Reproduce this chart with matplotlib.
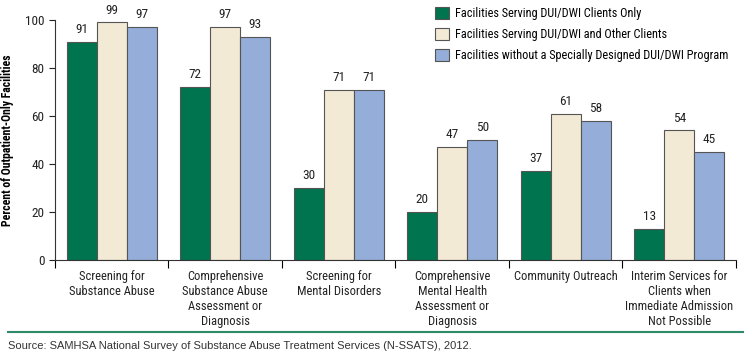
import matplotlib.pyplot as plt
import numpy as np

categories = [
    "Screening for\nSubstance Abuse",
    "Comprehensive\nSubstance Abuse\nAssessment or\nDiagnosis",
    "Screening for\nMental Disorders",
    "Comprehensive\nMental Health\nAssessment or\nDiagnosis",
    "Community Outreach",
    "Interim Services for\nClients when\nImmediate Admission\nNot Possible",
]
dui_only = [91, 72, 30, 20, 37, 13]
dui_and_other = [99, 97, 71, 47, 61, 54]
no_program = [97, 93, 71, 50, 58, 45]
series_labels = [
    "Facilities Serving DUI/DWI Clients Only",
    "Facilities Serving DUI/DWI and Other Clients",
    "Facilities without a Specially Designed DUI/DWI Program",
]
colors = ["#00734F", "#F2EAD5", "#94ADD9"]
y_ticks = [0, 20, 40, 60, 80, 100]

plt.rcParams["font.family"] = ["Roboto Condensed", "DejaVu Sans"]
FS = 9

fig = plt.figure(figsize=(7.5, 3.58), dpi=100)
ax = fig.add_axes([0.0733, 0.274, 0.908, 0.67])

x = np.arange(len(categories))
width = 0.265
series = [dui_only, dui_and_other, no_program]
handles = []
for i, (values, label, color) in enumerate(zip(series, series_labels, colors)):
    bars = ax.bar(x + (i - 1) * width, values, width, color=color,
                  edgecolor="#555555", linewidth=0.8, label=label)
    handles.append(bars)
    for xpos, v in zip(x + (i - 1) * width, values):
        ax.text(xpos, v + 2.4, str(v), ha="center", va="bottom", fontsize=FS + 0.5,
                color="#222222")

ax.set_xlim(-0.5, len(categories) - 0.5)
ax.set_ylim(0, 100)
ax.set_yticks(y_ticks)
ax.tick_params(axis="y", labelsize=FS + 0.5, length=4, direction="out", colors="#222222")
ax.set_xticks(np.arange(len(categories) + 1) - 0.5)
ax.set_xticklabels([])
ax.tick_params(axis="x", length=6, direction="out")
for xpos, cat in zip(x, categories):
    ax.text(xpos, -4.0, cat, ha="center", va="top", fontsize=FS, color="#222222",
            linespacing=1.2)

for side in ["top", "right"]:
    ax.spines[side].set_visible(False)
for side in ["left", "bottom"]:
    ax.spines[side].set_color("#333333")

ax.set_ylabel("Percent of Outpatient-Only Facilities", fontsize=8.5, fontweight="bold")
ax.yaxis.set_label_coords(-0.06, 0.5)

ax.legend(handles=handles, loc="upper left", bbox_to_anchor=(0.5585, 1.055), frameon=False,
          fontsize=8.8, handlelength=1.1, handleheight=1.15, handletextpad=0.5,
          labelspacing=0.65, borderaxespad=0, borderpad=0)

fig.add_artist(plt.Line2D([0.011, 0.99], [1 - 332 / 358, 1 - 332 / 358],
                          color="#2E8B67", linewidth=1.5, transform=fig.transFigure))
fig.text(0.011, 1 - 346 / 358, "Source: SAMHSA National Survey of Substance Abuse Treatment Services (N-SSATS), 2012.",
         fontsize=8, family=["Liberation Sans", "DejaVu Sans"], color="#333333", va="center")

fig.savefig("out.png", dpi=100)
